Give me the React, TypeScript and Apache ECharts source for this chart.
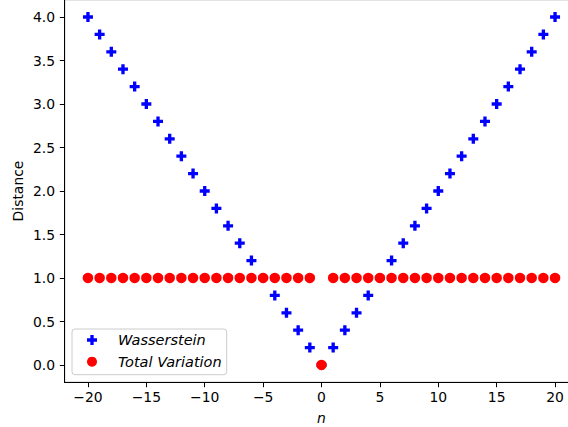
import React, { useEffect, useRef } from "react";
import * as echarts from "echarts";

const nValues = [-20, -19, -18, -17, -16, -15, -14, -13, -12, -11, -10, -9, -8, -7, -6, -5, -4, -3, -2, -1, 0, 1, 2, 3, 4, 5, 6, 7, 8, 9, 10, 11, 12, 13, 14, 15, 16, 17, 18, 19, 20];
const wasserstein = [4.0, 3.8, 3.6, 3.4, 3.2, 3.0, 2.8, 2.6, 2.4, 2.2, 2.0, 1.8, 1.6, 1.4, 1.2, 1.0, 0.8, 0.6, 0.4, 0.2, 0.0, 0.2, 0.4, 0.6, 0.8, 1.0, 1.2, 1.4, 1.6, 1.8, 2.0, 2.2, 2.4, 2.6, 2.8, 3.0, 3.2, 3.4, 3.6, 3.8, 4.0];
const totalVariation = [1, 1, 1, 1, 1, 1, 1, 1, 1, 1, 1, 1, 1, 1, 1, 1, 1, 1, 1, 1, 0, 1, 1, 1, 1, 1, 1, 1, 1, 1, 1, 1, 1, 1, 1, 1, 1, 1, 1, 1, 1];
const xTicks = [-20, -15, -10, -5, 0, 5, 10, 15, 20];
const yTicks = [0, 0.5, 1.0, 1.5, 2.0, 2.5, 3.0, 3.5, 4.0];

const FONT = "DejaVu Sans";
const FS = 13.9;
const PLUS = "path://M2,0H4V2H6V4H4V6H2V4H0V2H2Z";

export default function App() {
  const ref = useRef<HTMLDivElement>(null);
  useEffect(() => {
    const chart = echarts.init(ref.current!, null, { renderer: "svg" });
    const fmtMinus = (v: number, digits: number) => v.toFixed(digits).replace("-", "\u2212");
    chart.setOption({
      animation: false,
      backgroundColor: "#fff",
      grid: {
        left: 64.6,
        top: -0.4,
        right: -10.4,
        bottom: 44.6,
        outerBoundsMode: "none",
        containLabel: false,
        show: true,
        borderColor: "#000",
        borderWidth: 1,
      },
      xAxis: {
        type: "value",
        min: -22,
        max: 22,
        name: "n",
        nameLocation: "middle",
        nameGap: 29,
        nameMoveOverlap: false,
        nameTextStyle: { fontFamily: FONT, fontSize: FS, fontStyle: "italic", color: "#000" },
        splitLine: { show: false },
        axisLine: { show: true, onZero: false, lineStyle: { color: "#000", width: 1 } },
        axisTick: { show: true, length: 4.8, lineStyle: { color: "#000" }, customValues: xTicks },
        axisLabel: {
          customValues: xTicks,
          margin: 7.5,
          fontFamily: FONT,
          fontSize: FS,
          color: "#000",
          formatter: (v: number) => fmtMinus(v, 0),
        },
      },
      yAxis: {
        type: "value",
        min: -0.2,
        max: 4.2,
        name: "Distance",
        nameLocation: "middle",
        nameGap: 40,
        nameRotate: 90,
        nameMoveOverlap: false,
        nameTextStyle: { fontFamily: FONT, fontSize: FS, color: "#000" },
        splitLine: { show: false },
        axisLine: { show: true, onZero: false, lineStyle: { color: "#000", width: 1 } },
        axisTick: { show: true, length: 4.8, lineStyle: { color: "#000" }, customValues: yTicks },
        axisLabel: {
          customValues: yTicks,
          margin: 9.5,
          fontFamily: FONT,
          fontSize: FS,
          color: "#000",
          formatter: (v: number) => fmtMinus(v, 1),
        },
      },
      legend: {
        orient: "vertical",
        left: 72,
        top: 329,
        padding: [2.5, 5, 4.5, 15],
        itemWidth: 10,
        itemHeight: 10,
        itemGap: 4.7,
        borderColor: "#ccc",
        borderWidth: 1,
        borderRadius: 3,
        backgroundColor: "rgba(255,255,255,0.8)",
        textStyle: {
          fontFamily: FONT,
          fontSize: 14.5,
          fontStyle: "italic",
          color: "#000",
          lineHeight: 17,
          padding: [0, 0, 0, 16],
        },
        data: [
          { name: "Wasserstein", icon: PLUS, itemStyle: { opacity: 1 } },
          { name: "Total Variation", icon: "circle", itemStyle: { opacity: 1 } },
        ],
      },
      series: [
        {
          name: "Wasserstein",
          type: "scatter",
          symbol: PLUS,
          symbolSize: 10,
          itemStyle: { color: "#0000ff", opacity: 1 },
          data: nValues.map((n, i) => [n, wasserstein[i]]),
          z: 2,
        },
        {
          name: "Total Variation",
          type: "scatter",
          symbol: "circle",
          symbolSize: 10.5,
          itemStyle: { color: "#ff0000", opacity: 1 },
          data: nValues.map((n, i) => [n, totalVariation[i]]),
          z: 3,
        },
      ],
    });
    return () => chart.dispose();
  }, []);
  return (
    <div
      ref={ref}
      style={{ position: "fixed", left: 0, top: 0, width: 568, height: 427, background: "#fff" }}
    />
  );
}
